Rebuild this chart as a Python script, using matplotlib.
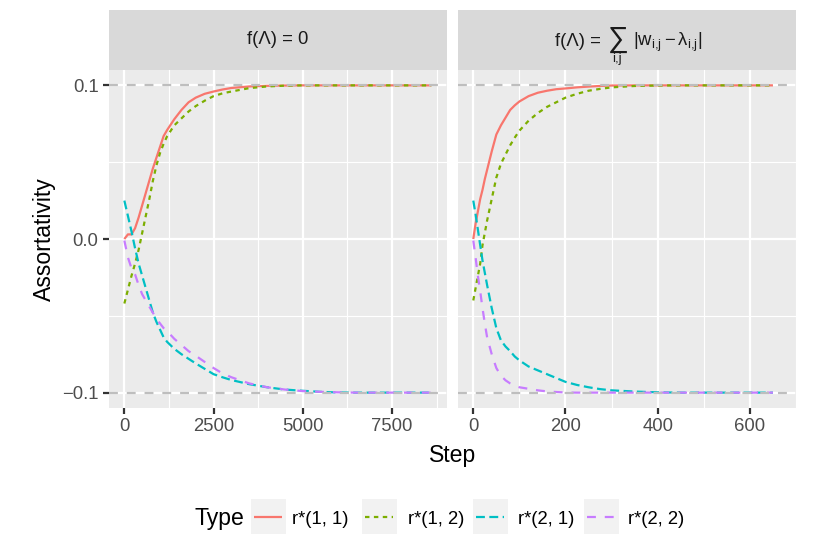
import matplotlib
matplotlib.use("Agg")
import matplotlib.pyplot as plt
from matplotlib.lines import Line2D
from matplotlib.patches import Rectangle

plt.rcParams['font.family'] = ['Liberation Sans', 'DejaVu Sans']
plt.rcParams['mathtext.fontset'] = 'custom'
plt.rcParams['mathtext.rm'] = 'Liberation Sans'
plt.rcParams['mathtext.it'] = 'Liberation Sans'
plt.rcParams['mathtext.bf'] = 'Liberation Sans:bold'

# ---- data ----
types = ['r*(1, 1)', 'r*(1, 2)', 'r*(2, 1)', 'r*(2, 2)']
colors = ['#F8766D', '#7CAE00', '#00BFC4', '#C77CFF']
dashes = [None, (2, 2), (4, 2), (4, 4)]

step_left = [0, 100, 200, 300, 400, 500, 600, 700, 800, 900, 1000, 1100, 1200,
             1400, 1600, 1800, 2000, 2250, 2500, 2750, 3000, 3500, 4000, 4500,
             5000, 5500, 6000, 6500, 7000, 7500, 8000, 8600]
r11_left = [0.000, 0.003, 0.003, 0.007, 0.014, 0.022, 0.030, 0.038, 0.046, 0.053,
            0.060, 0.067, 0.071, 0.078, 0.084, 0.089, 0.092, 0.0945, 0.096, 0.0973,
            0.0983, 0.0993, 0.0997, 0.0999, 0.1, 0.1, 0.1, 0.1, 0.1, 0.1, 0.1, 0.1]
r12_left = [-0.042, -0.033, -0.024, -0.016, -0.007, 0.004, 0.015, 0.026, 0.038, 0.048,
            0.056, 0.062, 0.067, 0.074, 0.0785, 0.083, 0.0865, 0.090, 0.093, 0.0948,
            0.096, 0.0982, 0.0993, 0.0998, 0.1, 0.1, 0.1, 0.1, 0.1, 0.1, 0.1, 0.1]
r21_left = [0.025, 0.015, 0.005, -0.006, -0.016, -0.024, -0.032, -0.040, -0.048, -0.054,
            -0.059, -0.064, -0.067, -0.0715, -0.075, -0.078, -0.081, -0.0845, -0.088,
            -0.090, -0.0918, -0.0945, -0.0965, -0.098, -0.0988, -0.0995, -0.0999,
            -0.1, -0.1, -0.1, -0.1, -0.1]
r22_left = [-0.001, -0.012, -0.019, -0.023, -0.030, -0.036, -0.040, -0.044, -0.048,
            -0.052, -0.055, -0.058, -0.060, -0.065, -0.069, -0.073, -0.076, -0.080,
            -0.084, -0.0875, -0.090, -0.094, -0.0965, -0.098, -0.099, -0.0995,
            -0.0998, -0.1, -0.1, -0.1, -0.1, -0.1]

step_right = [0, 5, 10, 15, 20, 25, 30, 40, 50, 60, 70, 80, 90, 100, 120, 140, 160,
              180, 200, 225, 250, 275, 300, 350, 400, 450, 500, 550, 600, 650]
r11_right = [0.000, 0.010, 0.018, 0.026, 0.032, 0.039, 0.045, 0.057, 0.068, 0.074,
             0.079, 0.084, 0.087, 0.0895, 0.093, 0.0952, 0.0965, 0.0975, 0.098,
             0.0987, 0.0992, 0.0996, 0.0999, 0.1, 0.1, 0.1, 0.1, 0.1, 0.1, 0.1]
r12_right = [-0.040, -0.032, -0.024, -0.016, -0.004, 0.004, 0.012, 0.026, 0.040, 0.049,
             0.055, 0.061, 0.066, 0.0705, 0.077, 0.082, 0.086, 0.089, 0.092, 0.0945,
             0.0965, 0.0977, 0.0987, 0.0996, 0.0999, 0.1, 0.1, 0.1, 0.1, 0.1]
r21_right = [0.025, 0.016, 0.006, -0.004, -0.014, -0.022, -0.030, -0.045, -0.058,
             -0.066, -0.070, -0.073, -0.0765, -0.079, -0.083, -0.0855, -0.088, -0.0905,
             -0.093, -0.095, -0.0965, -0.0977, -0.0985, -0.0993, -0.0998, -0.1, -0.1,
             -0.1, -0.1, -0.1]
r22_right = [-0.001, -0.012, -0.024, -0.034, -0.045, -0.055, -0.064, -0.075, -0.084,
             -0.089, -0.092, -0.094, -0.0955, -0.0965, -0.0975, -0.0985, -0.0992,
             -0.0996, -0.0999, -0.1, -0.1, -0.1, -0.1, -0.1, -0.1, -0.1, -0.1, -0.1,
             -0.1, -0.1]

panels = [
    (step_left, [r11_left, r12_left, r21_left, r22_left], [0, 2500, 5000, 7500], 1250),
    (step_right, [r11_right, r12_right, r21_right, r22_right], [0, 200, 400, 600], 100),
]
ref_lines = [-0.1, 0.1]

# ---- layout in pixels ----
W, H = 830, 558
def box(x0, y0, x1, y1):
    return [x0 / W, 1 - y1 / H, (x1 - x0) / W, (y1 - y0) / H]
def fx(x):
    return x / W
def fy(y):
    return 1 - y / H

fig = plt.figure(figsize=(W / 100, H / 100), dpi=100)
panel_x = [(109, 446.7), (458.3, 796)]
lw = 1.6

for (steps, series, xticks, minor), (x0, x1) in zip(panels, panel_x):
    ax = fig.add_axes(box(x0, 70, x1, 408))
    ax.set_facecolor('#EBEBEB')
    for s in ax.spines.values():
        s.set_visible(False)
    ax.set_axisbelow(True)
    for ys, c, d in zip(series, colors, dashes):
        ln, = ax.plot(steps, ys, color=c, lw=lw, solid_capstyle='butt')
        if d is not None:
            ln.set_dashes(d)
    for yv in ref_lines:
        ax.axhline(yv, color='#BEBEBE', lw=lw, dashes=(4, 4))
    span = steps[-1] - steps[0]
    ax.set_xlim(steps[0] - 0.05 * span, steps[-1] + 0.05 * span)
    ax.set_ylim(-0.11, 0.11)
    ax.set_xticks(xticks, [str(t) for t in xticks])
    ax.set_xticks([t + minor for t in range(xticks[0], int(steps[-1] * 1.06), minor * 2)],
                  minor=True)
    ax.set_yticks([-0.1, 0.0, 0.1], ['\u22120.1', '0.0', '0.1'])
    ax.set_yticks([-0.05, 0.05], minor=True)
    ax.grid(which='major', color='white', lw=1.6)
    ax.grid(which='minor', color='white', lw=0.8)
    ax.tick_params(which='major', length=4.2, width=1.6, color='#333333',
                   labelcolor='#4D4D4D', labelsize=13.3, pad=3.3)
    ax.tick_params(which='minor', length=0)
    if x0 > 200:
        ax.tick_params(axis='y', which='both', left=False, labelleft=False)

    sax = fig.add_axes(box(x0, 10, x1, 70))
    sax.set_facecolor('#D9D9D9')
    sax.set_xticks([])
    sax.set_yticks([])
    for s in sax.spines.values():
        s.set_visible(False)

# strip labels
strip_kw = dict(color='#1A1A1A', fontsize=13.3)
fig.text(fx(277.8), fy(40), 'f(\u039b) = 0', ha='center', va='center', **strip_kw)
fig.text(fx(555), fy(46.5), 'f(\u039b) =', ha='left', va='baseline', **strip_kw)
fig.text(fx(617.5), fy(40), r'$\sum$', ha='center', va='center',
         color='#1A1A1A', fontsize=21)
fig.text(fx(616.5), fy(53), 'i,j', ha='center', va='top', color='#1A1A1A', fontsize=9.5)
fig.text(fx(632.5), fy(46.5), r'$|w_{i{,}j}-\lambda_{i{,}j}|$', ha='left',
         va='baseline', **strip_kw)

fig.text(fx(452.5), fy(462), 'Step', ha='center', va='baseline', fontsize=16.6)
fig.text(fx(44), fy(239), 'Assortativity', ha='center', va='center',
         rotation=90, fontsize=16.6)

# ---- legend ----
fig.text(fx(194), fy(525), 'Type', ha='left', va='baseline', fontsize=16.6)
key_x = [251, 362, 473, 584]
label_x = [292, 408, 518, 628]
for kx, lx, name, c, d in zip(key_x, label_x, types, colors, dashes):
    fig.patches.append(Rectangle((fx(kx), fy(534)), 34.5 / W, 35 / H,
                                 transform=fig.transFigure, facecolor='#F2F2F2',
                                 edgecolor='none'))
    ln = Line2D([fx(kx + 3), fx(kx + 31)], [fy(516.5)] * 2,
                transform=fig.transFigure, color=c, lw=lw, solid_capstyle='butt')
    if d is not None:
        ln.set_dashes(d)
    fig.lines.append(ln)
    fig.text(fx(lx), fy(524), name, ha='left', va='baseline', fontsize=13.3)

fig.savefig('out.png', dpi=100)
